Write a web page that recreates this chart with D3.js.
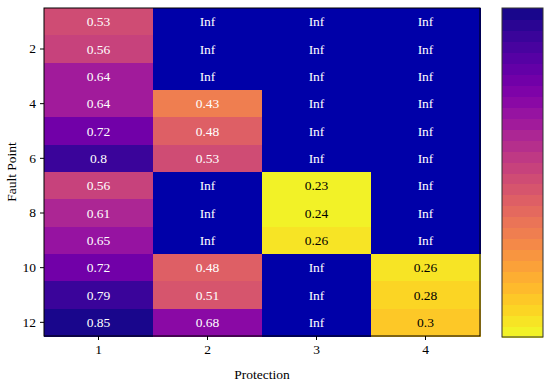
<!DOCTYPE html>
<html><head><meta charset="utf-8">
<script src="https://cdn.jsdelivr.net/npm/d3@7"></script>
<style>body{margin:0;background:#fff}svg{display:block}text{font-family:"Liberation Serif","Times New Roman",serif}</style>
</head><body>
<svg id="c" width="550" height="385"></svg>
<script>
const rows = [1,2,3,4,5,6,7,8,9,10,11,12];
const protections = [1,2,3,4];
const yTicks = [2,4,6,8,10,12];
const prot1 = [0.53,0.56,0.64,0.64,0.72,0.8,0.56,0.61,0.65,0.72,0.79,0.85];
const prot2 = [Infinity,Infinity,Infinity,0.43,0.48,0.53,Infinity,Infinity,Infinity,0.48,0.51,0.68];
const prot3 = [Infinity,Infinity,Infinity,Infinity,Infinity,Infinity,0.23,0.24,0.26,Infinity,Infinity,Infinity];
const prot4 = [Infinity,Infinity,Infinity,Infinity,Infinity,Infinity,Infinity,Infinity,Infinity,0.26,0.28,0.3];
const series = [prot1,prot2,prot3,prot4];
const vmin = 0.23, vmax = 0.85, nLevels = 30;
const infColor = "#0000a8";
const fs = 13.5;

const svg = d3.select("#c");
const m = {l:44, r:480, t:8, b:336};
const x = d3.scaleBand().domain(protections).range([m.l, m.r]);
const y = d3.scaleBand().domain(rows).range([m.t, m.b]);

const q = d3.scaleQuantize().domain([vmin, vmax]).range(d3.range(nLevels));
const levelColor = i => d3.interpolatePlasma(1 - (i + 0.5) / nLevels);
function color(v){ return isFinite(v) ? levelColor(q(v)) : infColor; }
function lum(c){
  const r = d3.rgb(c);
  const f = u => { u/=255; return u <= 0.03928 ? u/12.92 : Math.pow((u+0.055)/1.055, 2.4); };
  return 0.2126*f(r.r)+0.7152*f(r.g)+0.0722*f(r.b);
}

const cells = [];
series.forEach((s, j) => s.forEach((v, i) => cells.push({p: protections[j], r: rows[i], v})));

const g = svg.append("g").attr("shape-rendering","crispEdges");
g.selectAll("rect.cell").data(cells).join("rect").attr("class","cell")
  .attr("x", d => x(d.p)).attr("y", d => y(d.r))
  .attr("width", x.bandwidth()+1).attr("height", y.bandwidth()+1)
  .attr("fill", d => color(d.v));
svg.append("g").selectAll("text.lbl").data(cells).join("text").attr("class","lbl")
  .attr("x", d => x(d.p) + x.bandwidth()/2).attr("y", d => y(d.r) + y.bandwidth()/2)
  .attr("text-anchor","middle").attr("dy","0.35em").attr("font-size", fs)
  .attr("fill", d => lum(color(d.v)) > 0.408 ? "#000" : "#fff")
  .text(d => isFinite(d.v) ? String(d.v) : "Inf");

svg.append("rect").attr("x", m.l).attr("y", m.t).attr("width", m.r-m.l).attr("height", m.b-m.t)
  .attr("fill","none").attr("stroke","#000").attr("stroke-width",1);

const xAxis = svg.append("g").attr("transform", `translate(0,${m.b})`)
  .call(d3.axisBottom(x).tickSize(4).tickPadding(4));
const yAxis = svg.append("g").attr("transform", `translate(${m.l},0)`)
  .call(d3.axisLeft(y).tickValues(yTicks).tickSize(4).tickPadding(4));
[xAxis, yAxis].forEach(a => {
  a.select(".domain").remove();
  a.selectAll("text").attr("font-size", fs).attr("font-family", '"Liberation Serif",serif').attr("fill","#000");
  a.selectAll("line").attr("stroke","#000");
});

svg.append("text").attr("x", (m.l+m.r)/2).attr("y", 379).attr("text-anchor","middle")
  .attr("font-size", fs).text("Protection");
svg.append("text").attr("transform", `translate(16,${(m.t+m.b)/2}) rotate(-90)`)
  .attr("text-anchor","middle").attr("font-size", fs).text("Fault Point");

// colorbar
const cb = {x:502, w:41, t:8, b:337};
const cy = d3.scaleBand().domain(d3.range(nLevels)).range([cb.b, cb.t]);
svg.append("g").attr("shape-rendering","crispEdges").selectAll("rect").data(d3.range(nLevels)).join("rect")
  .attr("x", cb.x).attr("y", d => cy(d)).attr("width", cb.w).attr("height", cy.bandwidth()+1)
  .attr("fill", d => levelColor(d));
svg.append("rect").attr("x", cb.x).attr("y", cb.t).attr("width", cb.w).attr("height", cb.b-cb.t)
  .attr("fill","none").attr("stroke","#333").attr("stroke-width",1);
</script>
</body></html>
